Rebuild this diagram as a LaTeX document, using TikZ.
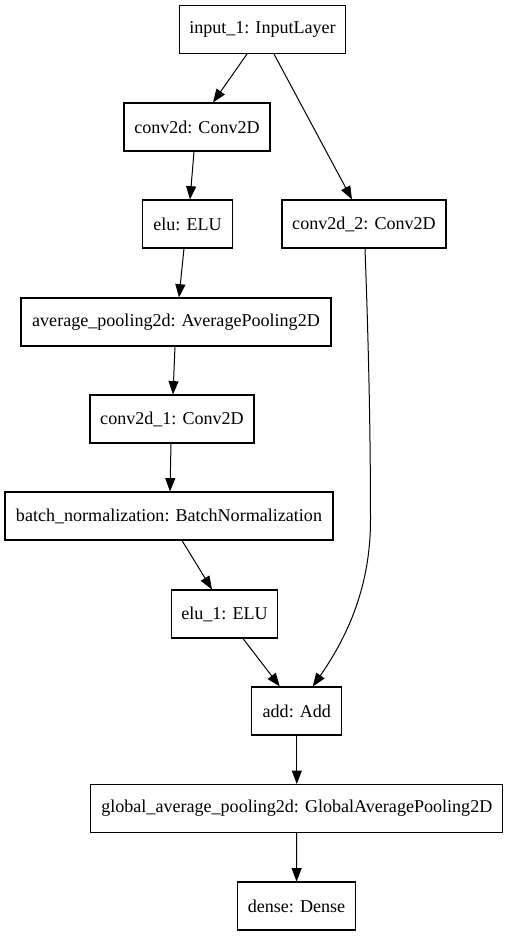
\documentclass[tikz,border=0pt]{standalone}
\usepackage{fontspec}
\setmainfont{Liberation Serif}
\usepackage{tikz}
\usetikzlibrary{arrows.meta,calc}
\tikzset{
  flowarrow/.style={-{Triangle[length=10bp, width=7.5bp]}, line width=0.75bp},
  layer/.style={draw, line width=0.8bp, minimum height=36bp, inner sep=0pt, align=center}
}

\begin{document}
\begin{tikzpicture}[x=0.75bp, y=-0.75bp, every node/.style={font=\fontsize{13.6}{16}\selectfont}]
  \useasboundingbox (0,0) rectangle (509,936);
  \node[layer, minimum width=125bp] (input) at (262.5,29.5) {input\_1: InputLayer};
  \node[layer, minimum width=109.5bp] (conv2d) at (197,127) {conv2d: Conv2D};
  \node[layer, minimum width=67bp] (elu) at (187.5,224) {elu: ELU};
  \node[layer, minimum width=123bp] (conv2d_2) at (364,224) {conv2d\_2: Conv2D};
  \node[layer, minimum width=232.5bp] (avgpool) at (176,322) {average\_pooling2d: AveragePooling2D};
  \node[layer, minimum width=123bp] (conv2d_1) at (172,419) {conv2d\_1: Conv2D};
  \node[layer, minimum width=246bp] (batchnorm) at (169,516) {batch\_normalization: BatchNormalization};
  \node[layer, minimum width=80bp] (elu_1) at (224.5,614) {elu\_1: ELU};
  \node[layer, minimum width=67.5bp] (add) at (296.8,711) {add: Add};
  \node[layer, minimum width=309bp] (gap) at (296.8,808.5) {global\_average\_pooling2d: GlobalAveragePooling2D};
  \node[layer, minimum width=89bp] (dense) at (296.5,906) {dense: Dense};
  \coordinate (bend) at (370.5,520);
  \draw[flowarrow] ($(input.south)+(-15.5,0)$) -- ($(conv2d.north)+(16,0)$);
  \draw[flowarrow] ($(input.south)+(11.5,0)$) -- ($(conv2d_2.north)+(-12,0)$);
  \draw[flowarrow] ($(conv2d.south)+(-3,0)$) -- ($(elu.north)+(2.5,0)$);
  \draw[flowarrow] ($(elu.south)+(-3.5,0)$) -- ($(avgpool.north)+(3,0)$);
  \draw[flowarrow] ($(avgpool.south)+(-1,0)$) -- ($(conv2d_1.north)+(1,0)$);
  \draw[flowarrow] ($(conv2d_1.south)+(-1,0)$) -- ($(batchnorm.north)+(1,0)$);
  \draw[flowarrow] ($(batchnorm.south)+(13,0)$) -- ($(elu_1.north)+(-12.5,0)$);
  \draw[flowarrow] ($(elu_1.south)+(18.5,0)$) -- ($(add.north)+(-17,0)$);
  \draw[flowarrow] ($(conv2d_2.south)+(1,0)$) .. controls (368,330) and (370.5,420) .. (bend)
    .. controls (370.5,590) and (345,640) .. ($(add.north)+(16,0)$);
  \draw[flowarrow] (add) -- (gap);
  \draw[flowarrow] (gap) -- (dense);
\end{tikzpicture}
\end{document}
